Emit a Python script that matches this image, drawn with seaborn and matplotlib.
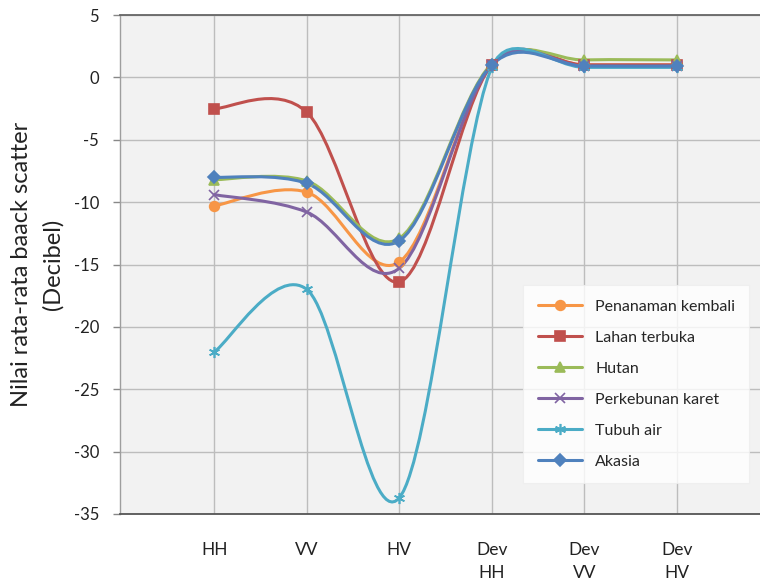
import numpy as np
import pandas as pd
import matplotlib
matplotlib.use("Agg")
import matplotlib.pyplot as plt
import seaborn as sns
from matplotlib.path import Path
from matplotlib.patches import PathPatch
from matplotlib.lines import Line2D

categories = ["HH", "VV", "HV", "Dev\nHH", "Dev\nVV", "Dev\nHV"]
series_names = ["Penanaman kembali", "Lahan terbuka", "Hutan",
                "Perkebunan karet", "Tubuh air", "Akasia"]
penanaman = [-10.3, -9.2, -14.8, 1.0, 1.0, 1.0]
lahan = [-2.5, -2.8, -16.4, 1.0, 1.0, 1.0]
hutan = [-8.2, -8.3, -12.9, 1.1, 1.4, 1.4]
perkebunan = [-9.4, -10.8, -15.3, 1.0, 0.9, 0.9]
tubuh_air = [-22.0, -17.0, -33.7, 0.8, 0.8, 0.8]
akasia = [-8.0, -8.5, -13.1, 1.0, 0.9, 0.9]
values = [penanaman, lahan, hutan, perkebunan, tubuh_air, akasia]

colors = ["#F79646", "#C0504D", "#9BBB59", "#8064A2", "#4BACC6", "#4F81BD"]
markers = ["o", "s", "^", "x", (6, 2, 0), "D"]
msizes = [7, 7, 7.5, 7, 8, 6]

sns.set_style("white")
plt.rcParams["font.family"] = ["Lato", "DejaVu Sans"]

fig = plt.figure(figsize=(7.6, 5.82), dpi=100)
ax = fig.add_axes([120 / 760, 1 - 514 / 582, 640 / 760, 499 / 582])
ax.set_facecolor("#F2F2F2")
xpos = np.arange(1, len(categories) + 1)
ax.set_xlim(-0.02, 6.90)
ax.set_ylim(-35, 5)

# scale factors (pixels per data unit) for Excel-like smoothing
bb = ax.get_window_extent()
sx = bb.width / (ax.get_xlim()[1] - ax.get_xlim()[0])
sy = bb.height / (ax.get_ylim()[1] - ax.get_ylim()[0])


def smooth_path(xs, ys):
    """Excel-style smoothed line: Catmull-Rom arms (1/6) capped at half a segment."""
    P = np.column_stack([np.asarray(xs, float) * sx, np.asarray(ys, float) * sy])
    n = len(P)
    verts = [P[0]]
    codes = [Path.MOVETO]
    for i in range(n - 1):
        p0 = P[i - 1] if i > 0 else P[i]
        p1 = P[i]
        p2 = P[i + 1]
        p3 = P[i + 2] if i + 2 < n else P[i + 1]
        d12 = np.linalg.norm(p2 - p1)
        v1 = (p2 - p0) / 6.0
        v2 = (p3 - p1) / 6.0
        l1 = np.linalg.norm(v1)
        l2 = np.linalg.norm(v2)
        if l1 > d12 / 2 and l1 > 0:
            v1 = v1 * (d12 / 2) / l1
        if l2 > d12 / 2 and l2 > 0:
            v2 = v2 * (d12 / 2) / l2
        c1 = p1 + v1
        c2 = p2 - v2
        verts += [c1, c2, p2]
        codes += [Path.CURVE4] * 3
    verts = np.array(verts) / np.array([sx, sy])
    return Path(verts, codes)


for name, vals, col, mk, ms in zip(series_names, values, colors, markers, msizes):
    patch = PathPatch(smooth_path(xpos, vals), fill=False, edgecolor=col,
                      lw=2.2, zorder=3, capstyle="round", joinstyle="round")
    ax.add_patch(patch)
    df = pd.DataFrame({"pos": xpos, "val": vals})
    sns.lineplot(data=df, x="pos", y="val", ax=ax, marker=mk, linestyle="",
                 color=col, markersize=ms, markeredgecolor=col,
                 markerfacecolor=col, markeredgewidth=1.2, zorder=4)

ax.set_xticks(xpos)
ax.set_xticklabels(categories, fontsize=12.5, color="#222222", linespacing=1.55)
ax.set_yticks(np.arange(-35, 6, 5))
ax.set_yticklabels([str(v) for v in range(-35, 6, 5)], fontsize=12, color="#222222")
ax.tick_params(axis="x", length=0, pad=20)
ax.tick_params(axis="y", length=5, width=1, color="#888888", pad=10, left=True)
ax.grid(True, color="#BDBDBD", lw=1.0)
ax.set_axisbelow(True)
ax.spines["left"].set_color("#9E9E9E")
ax.spines["left"].set_linewidth(1.0)
ax.spines["bottom"].set_color("#555555")
ax.spines["bottom"].set_linewidth(1.3)
ax.spines["top"].set_color("#666666")
ax.spines["top"].set_linewidth(1.3)
ax.spines["right"].set_visible(False)
ax.set_xlabel("")
ax.set_ylabel("Nilai rata-rata baack scatter\n(Decibel)", fontsize=17,
              color="#222222", labelpad=7, linespacing=1.6)

handles = [Line2D([0], [0], color=c, lw=2.2, marker=m, markersize=ms,
                  markeredgecolor=c, markerfacecolor=c, markeredgewidth=1.2)
           for c, m, ms in zip(colors, markers, msizes)]
leg = ax.legend(handles, series_names, loc="lower left",
                bbox_to_anchor=(0.63, 0.062), frameon=True, fontsize=11.5,
                labelspacing=1.05, handlelength=2.8, borderpad=0.9,
                handletextpad=0.8, fancybox=False, borderaxespad=0)
leg.get_frame().set_facecolor("white")
leg.get_frame().set_edgecolor("#EEEEEE")
leg.get_frame().set_linewidth(0.8)
leg.set_zorder(5)

fig.savefig("out.png", dpi=100, facecolor="white")
